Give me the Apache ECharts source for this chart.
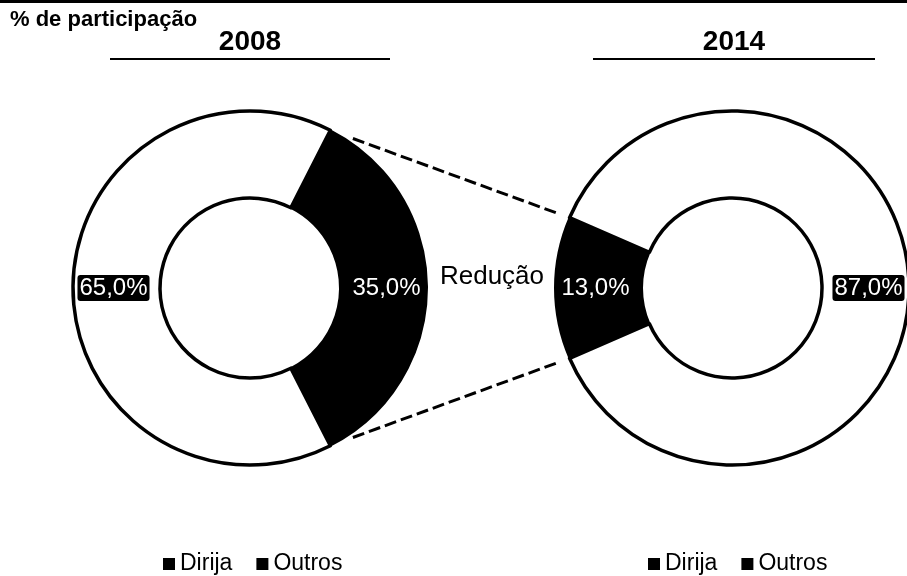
<!DOCTYPE html>
<html>
<head>
<meta charset="utf-8">
<script src="https://cdn.jsdelivr.net/npm/echarts@6/dist/echarts.min.js"></script>
<style>
  html, body { margin: 0; padding: 0; background: #fff; }
  #chart { width: 907px; height: 576px; }
</style>
</head>
<body>
<div id="chart"></div>
<script>
// dados (% de participação)
const categories = ['Dirija', 'Outros']
const years = ['2008', '2014']
const share2008 = [35.0, 65.0]
const share2014 = [13.0, 87.0]
const middleLabel = 'Redução'
const chartTitle = '% de participação'

const FONT = 'Arial, "Liberation Sans", sans-serif'
const outerR = 177
const innerR = 90
const centers = [[250, 288], [732, 288]]

// angulo de inicio para centrar a fatia "Dirija" (0 = direita, 180 = esquerda)
const startFor = (share, centerAngle) => centerAngle + (share * 3.6) / 2
const starts = [startFor(share2008[0], 0), startFor(share2014[0], 180)]

const fmt = (v) => v.toFixed(1).replace('.', ',') + '%'

const buildData = (values) =>
  categories.map((name, i) => ({
    name,
    value: values[i],
    itemStyle: i === 0
      ? { color: '#000', borderColor: '#000', borderWidth: 2 }
      : { color: '#fff', borderColor: '#000', borderWidth: 3.5 },
    label: i === 0
      ? { color: '#fff' }
      : { color: '#fff', backgroundColor: '#000', padding: [1, 2], borderRadius: 3 },
  }))

const makePie = (values, idx) => ({
  type: 'pie',
  name: years[idx],
  center: centers[idx],
  radius: [innerR, outerR],
  startAngle: starts[idx],
  clockwise: true,
  silent: true,
  data: buildData(values),
  label: {
    show: true,
    position: 'inside',
    fontFamily: FONT,
    fontSize: 24,
    formatter: (p) => fmt(p.value),
  },
  labelLine: { show: false },
  emphasis: { disabled: true },
})

// linhas tracejadas entre as fatias "Dirija"
const polar = (c, angleDeg, r) => {
  const a = (angleDeg * Math.PI) / 180
  return [c[0] + r * Math.cos(a), c[1] - r * Math.sin(a)]
}
const halfL = (share2008[0] * 3.6) / 2
const halfR = (share2014[0] * 3.6) / 2
const shorten = (p1, p2, d1, d2) => {
  const dx = p2[0] - p1[0]
  const dy = p2[1] - p1[1]
  const len = Math.sqrt(dx * dx + dy * dy)
  const ux = dx / len
  const uy = dy / len
  return [p1[0] + ux * d1, p1[1] + uy * d1, p2[0] - ux * d2, p2[1] - uy * d2]
}
const topLine = shorten(polar(centers[0], halfL, outerR), polar(centers[1], 180 - halfR, outerR), 24, 10)
const botLine = shorten(polar(centers[0], -halfL, outerR), polar(centers[1], 180 + halfR, outerR), 24, 10)

const connector = (seg) => ({
  type: 'line',
  shape: { x1: seg[0], y1: seg[1], x2: seg[2], y2: seg[3] },
  style: { stroke: '#000', lineWidth: 3, lineDash: [12, 5] },
  silent: true,
})

const legendFor = (left) => ({
  left,
  top: 547,
  orient: 'horizontal',
  icon: 'rect',
  itemWidth: 12,
  itemHeight: 12,
  itemGap: 24,
  selectedMode: false,
  textStyle: { fontFamily: FONT, fontSize: 23, color: '#000', lineHeight: 24 },
  data: categories.map((name) => ({ name, itemStyle: { color: '#000', borderWidth: 0 } })),
})

const chart = echarts.init(document.getElementById('chart'))

chart.setOption({
  animation: false,
  backgroundColor: '#fff',
  legend: [legendFor(158), legendFor(643)],
  series: [makePie(share2008, 0), makePie(share2014, 1)],
  graphic: [
    {
      type: 'rect',
      shape: { x: 0, y: 0, width: 907, height: 3 },
      style: { fill: '#000' },
    },
    {
      type: 'text',
      x: 10,
      y: 20,
      style: { text: chartTitle, font: 'bold 22px ' + FONT, fill: '#000', textVerticalAlign: 'middle' },
    },
    {
      type: 'text',
      x: 250,
      y: 42,
      style: { text: years[0], font: 'bold 28px ' + FONT, fill: '#000', textAlign: 'center', textVerticalAlign: 'middle' },
    },
    {
      type: 'text',
      x: 734,
      y: 42,
      style: { text: years[1], font: 'bold 28px ' + FONT, fill: '#000', textAlign: 'center', textVerticalAlign: 'middle' },
    },
    {
      type: 'line',
      shape: { x1: 110, y1: 59, x2: 390, y2: 59 },
      style: { stroke: '#000', lineWidth: 2 },
    },
    {
      type: 'line',
      shape: { x1: 593, y1: 59, x2: 875, y2: 59 },
      style: { stroke: '#000', lineWidth: 2 },
    },
    connector(topLine),
    connector(botLine),
    {
      type: 'text',
      x: 492,
      y: 277,
      style: { text: middleLabel, font: '26px ' + FONT, fill: '#000', textAlign: 'center', textVerticalAlign: 'middle' },
    },
  ],
})

window.addEventListener('resize', () => chart.resize())
</script>
</body>
</html>
